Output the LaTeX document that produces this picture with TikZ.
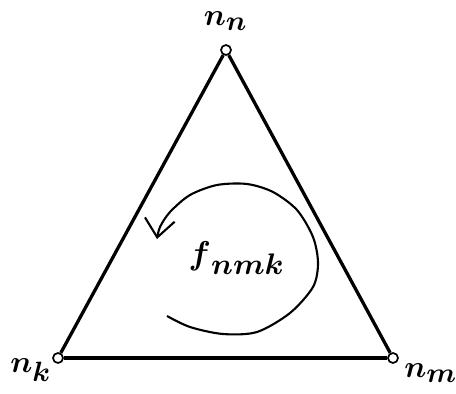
\documentclass[tikz,border=0pt]{standalone}
\usepackage{amsmath}
\usetikzlibrary{arrows.meta}
\DeclareMathSizes{10}{10}{9}{7}
\newcommand{\heavy}[1]{\special{pdf:content 2 Tr 0.7 w}#1\special{pdf:content 0 Tr}}
\tikzset{
  vert/.style={circle, draw, line width=1.7pt, fill=white, minimum size=10pt, inner sep=0pt},
  edge/.style={line width=3.3pt},
  vlab/.style={scale=3.1, inner sep=0pt},
  flab/.style={scale=3.3, inner sep=0pt},
  turn/.style={line width=2.1pt, -{Straight Barb[length=18pt,width=30pt,line width=2.1pt]}}
}
\begin{document}
\begin{tikzpicture}[x=1pt,y=-1pt]
\useasboundingbox (0,0) rectangle (456,394);
\node[vert] (T) at (226,50) {};
\node[vert] (L) at (58,358) {};
\node[vert] (R) at (393,358) {};
\draw[edge] (T) -- (L);
\draw[edge] (L) -- (R);
\draw[edge] (R) -- (T);
\node[vlab] (tn) at (226,21) {\heavy{$\boldsymbol{n}_{\boldsymbol{n}}$}};
\node[vlab] (tk) at (31,370) {\heavy{$\boldsymbol{n}_{\boldsymbol{k}}$}};
\node[vlab] (tm) at (431,373) {\heavy{$\boldsymbol{n}_{\boldsymbol{m}}$}};
\node[flab] (tf) at (237,258) {\heavy{$\boldsymbol{f}_{\boldsymbol{nmk}}$}};
\draw[turn] plot[smooth] coordinates {(167,316) (190,327) (223,334) (257,332) (290,313) (313,287) (318,263) (313,237) (297,210) (273,192) (247,184) (217,185) (190,195) (170,212) (160,227) (157,239)};
\end{tikzpicture}
\end{document}
